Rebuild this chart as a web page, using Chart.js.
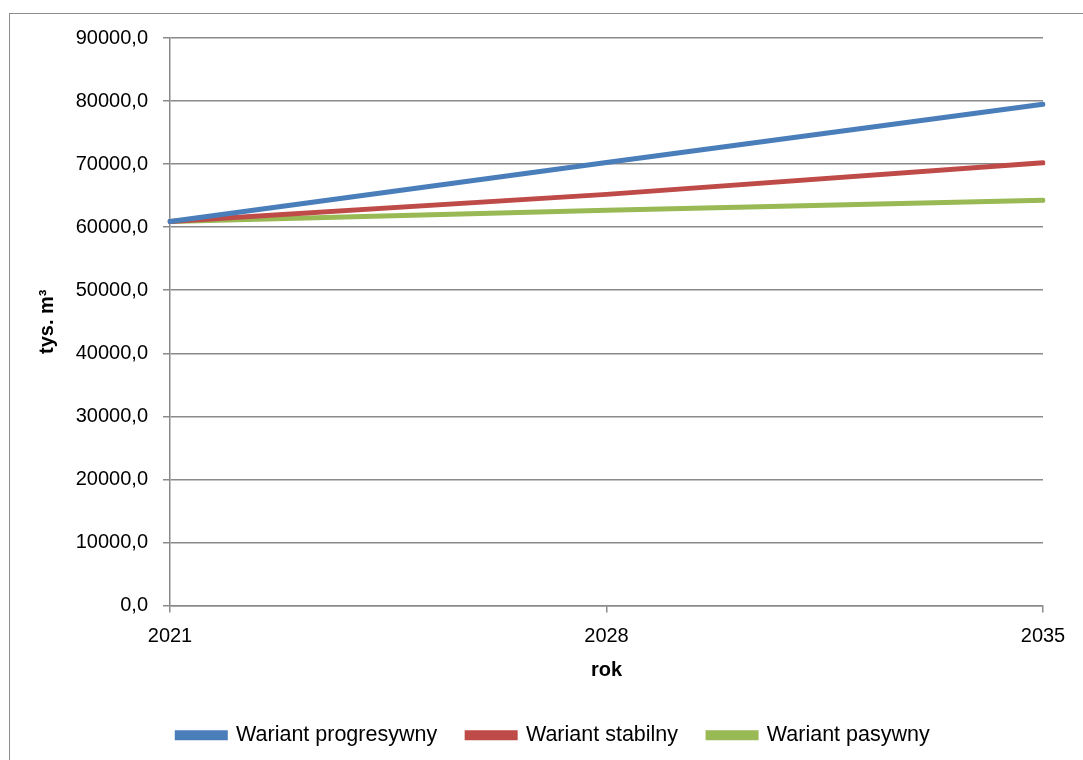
<!DOCTYPE html>
<html>
<head>
<meta charset="utf-8">
<script src="https://cdn.jsdelivr.net/npm/chart.js@4"></script>
<style>
  html, body { margin: 0; padding: 0; background: #fff; }
  body { width: 1083px; height: 760px; position: relative; overflow: hidden; }
  #frame {
    position: absolute; left: 9px; top: 13px; width: 1200px; height: 900px;
    border: 1.5px solid #8c8c8c; box-sizing: border-box;
  }
  #wrap { position: absolute; left: 0; top: 0; width: 1083px; height: 760px; }
</style>
</head>
<body>
<div id="frame"></div>
<div id="wrap"><canvas id="chart"></canvas></div>
<script>
// Years on the x axis
const years = ['2021', '2028', '2035'];

// Series values (thousand m3)
const progresywny = [60900, 70250, 79500];
const stabilny = [60900, 65200, 70200];
const pasywny = [60900, 62700, 64250];

const seriesNames = ['Wariant progresywny', 'Wariant stabilny', 'Wariant pasywny'];
const seriesColors = ['#4a7ebb', '#be4b48', '#98b954'];

const yMin = 0;
const yMax = 90000;
const yStep = 10000;

const font = 'Liberation Sans';
const gridColor = '#8a8a8a';

const makeDataset = (label, data, color) => ({
    label,
    data,
    borderColor: color,
    backgroundColor: color,
    borderWidth: 5,
    borderCapStyle: 'round',
    pointRadius: 0,
    tension: 0,
    fill: false
});

// Excel centres the legend a bit further right than Chart.js does
const legendShift = {
    id: 'legendShift',
    afterLayout: (chart) => {
        chart.legend.left += 22;
        chart.legend.right += 22;
    }
};

const ctx = document.getElementById('chart').getContext('2d');
new Chart(ctx, {
    type: 'line',
    data: {
        labels: years,
        datasets: [
            makeDataset(seriesNames[0], progresywny, seriesColors[0]),
            makeDataset(seriesNames[1], stabilny, seriesColors[1]),
            makeDataset(seriesNames[2], pasywny, seriesColors[2])
        ]
    },
    plugins: [legendShift],
    options: {
        responsive: true,
        maintainAspectRatio: false,
        animation: false,
        layout: {
            padding: { left: 20, right: 40, top: 38, bottom: 4 }
        },
        plugins: {
            tooltip: { enabled: false },
            legend: {
                position: 'bottom',
                labels: {
                    boxWidth: 48,
                    boxHeight: 5,
                    padding: 30,
                    color: '#000',
                    font: { family: font, size: 21.5 }
                }
            }
        },
        scales: {
            x: {
                type: 'category',
                offset: false,
                afterFit: (scale) => { scale.height = 89; },
                grid: {
                    drawOnChartArea: false,
                    drawTicks: true,
                    tickLength: 7,
                    color: gridColor,
                    lineWidth: 1.5
                },
                border: { display: true, color: gridColor, width: 1.5 },
                ticks: {
                    color: '#000',
                    padding: 12,
                    maxRotation: 0,
                    font: { family: font, size: 20 }
                },
                title: {
                    display: true,
                    text: 'rok',
                    color: '#000',
                    padding: { top: 0, bottom: 12 },
                    font: { family: font, size: 20, weight: 'bold' }
                }
            },
            y: {
                min: yMin,
                max: yMax,
                afterFit: (scale) => { scale.width = 150; },
                grid: {
                    drawOnChartArea: true,
                    drawTicks: true,
                    tickLength: 7,
                    color: gridColor,
                    lineWidth: 1.5
                },
                border: { display: true, color: gridColor, width: 1.5 },
                ticks: {
                    stepSize: yStep,
                    color: '#000',
                    padding: 15,
                    font: { family: font, size: 20 },
                    callback: (value) => value.toFixed(1).replace('.', ',')
                },
                title: {
                    display: true,
                    text: 'tys. m³',
                    color: '#000',
                    padding: { top: 15, bottom: 0 },
                    font: { family: font, size: 20, weight: 'bold' }
                }
            }
        }
    }
});
</script>
</body>
</html>
